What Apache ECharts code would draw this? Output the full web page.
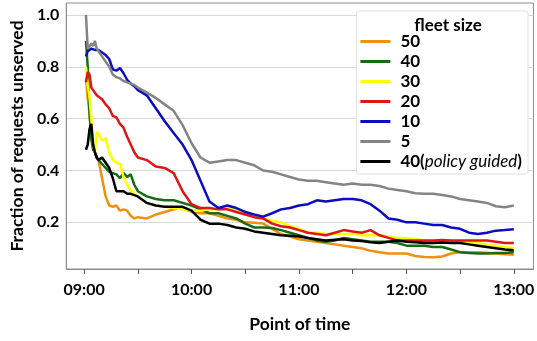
<!DOCTYPE html>
<html>
<head>
<meta charset="utf-8">
<script src="https://cdn.jsdelivr.net/npm/echarts@6/dist/echarts.min.js"></script>
<style>
  html, body { margin: 0; padding: 0; background: #fff; }
  #chart { width: 537px; height: 341px; }
</style>
</head>
<body>
<div id="chart"></div>
<script>
// minutes after 09:00
const minutes = [1, 2, 3, 4, 5, 6, 7, 8, 10, 12, 14, 16, 18, 20, 22, 24, 26, 28, 30,
  35, 40, 45, 50, 55, 60, 65, 70, 75, 80, 85, 90, 95, 100, 105, 110, 115, 120,
  125, 130, 135, 140, 145, 150, 155, 160, 165, 170, 175, 180, 185, 190, 195, 200,
  205, 210, 215, 220, 225, 230, 235, 240];

const fleet50 = [0.75, 0.68, 0.62, 0.55, 0.50, 0.47, 0.45, 0.44, 0.37, 0.30, 0.265, 0.26, 0.265, 0.245, 0.25, 0.245, 0.225, 0.215, 0.22,
  0.215, 0.23, 0.24, 0.25, 0.255, 0.24, 0.235, 0.235, 0.225, 0.215, 0.21, 0.20, 0.198, 0.195, 0.175, 0.155, 0.145, 0.135,
  0.13, 0.125, 0.12, 0.115, 0.11, 0.105, 0.10, 0.09, 0.085, 0.08, 0.08, 0.08, 0.07, 0.066, 0.065, 0.068,
  0.08, 0.085, 0.085, 0.085, 0.083, 0.08, 0.077, 0.075];
const fleet40 = [0.90, 0.80, 0.62, 0.52, 0.48, 0.47, 0.45, 0.44, 0.425, 0.41, 0.395, 0.39, 0.385, 0.37, 0.39, 0.375, 0.385, 0.345, 0.32,
  0.30, 0.29, 0.285, 0.285, 0.275, 0.265, 0.25, 0.235, 0.235, 0.225, 0.215, 0.195, 0.18, 0.18, 0.178, 0.17, 0.16, 0.15,
  0.14, 0.13, 0.125, 0.13, 0.14, 0.135, 0.13, 0.125, 0.125, 0.125, 0.12, 0.11, 0.11, 0.11, 0.105, 0.105,
  0.095, 0.085, 0.082, 0.08, 0.08, 0.082, 0.082, 0.085];
const fleet30 = [0.80, 0.73, 0.68, 0.60, 0.50, 0.47, 0.55, 0.54, 0.515, 0.525, 0.47, 0.44, 0.43, 0.425, 0.375, 0.345, 0.325, 0.31, 0.30,
  0.275, 0.265, 0.26, 0.255, 0.25, 0.245, 0.245, 0.25, 0.25, 0.255, 0.25, 0.24, 0.225, 0.215, 0.205, 0.20, 0.185, 0.175,
  0.16, 0.16, 0.155, 0.155, 0.155, 0.155, 0.15, 0.15, 0.15, 0.145, 0.14, 0.14, 0.135, 0.13, 0.125, 0.125,
  0.125, 0.125, 0.125, 0.12, 0.115, 0.11, 0.105, 0.10];
const fleet20 = [0.74, 0.78, 0.77, 0.72, 0.71, 0.70, 0.69, 0.685, 0.675, 0.655, 0.64, 0.61, 0.605, 0.58, 0.565, 0.53, 0.50, 0.47, 0.45,
  0.44, 0.415, 0.41, 0.39, 0.32, 0.27, 0.255, 0.255, 0.25, 0.25, 0.24, 0.23, 0.22, 0.215, 0.195, 0.185, 0.18, 0.17,
  0.16, 0.155, 0.15, 0.16, 0.17, 0.165, 0.16, 0.17, 0.15, 0.14, 0.13, 0.13, 0.13, 0.13, 0.13, 0.132,
  0.13, 0.13, 0.13, 0.13, 0.13, 0.125, 0.12, 0.12];
const fleet10 = [0.84, 0.86, 0.865, 0.87, 0.87, 0.865, 0.87, 0.865, 0.855, 0.845, 0.83, 0.79, 0.785, 0.795, 0.775, 0.75, 0.735, 0.725, 0.71,
  0.69, 0.64, 0.59, 0.545, 0.50, 0.44, 0.36, 0.28, 0.255, 0.265, 0.255, 0.24, 0.23, 0.222, 0.235, 0.25, 0.255, 0.265,
  0.27, 0.285, 0.28, 0.285, 0.29, 0.29, 0.285, 0.27, 0.245, 0.215, 0.21, 0.20, 0.20, 0.195, 0.19, 0.19,
  0.18, 0.175, 0.16, 0.155, 0.16, 0.168, 0.17, 0.173];
const fleet5 = [1.0, 0.87, 0.88, 0.89, 0.88, 0.90, 0.87, 0.86, 0.84, 0.82, 0.80, 0.77, 0.76, 0.755, 0.745, 0.74, 0.735, 0.73, 0.72,
  0.70, 0.68, 0.655, 0.63, 0.575, 0.505, 0.45, 0.43, 0.435, 0.44, 0.44, 0.43, 0.42, 0.40, 0.395, 0.385, 0.375, 0.365,
  0.36, 0.36, 0.355, 0.35, 0.345, 0.35, 0.345, 0.345, 0.34, 0.33, 0.325, 0.32, 0.312, 0.31, 0.31, 0.305,
  0.30, 0.29, 0.285, 0.28, 0.275, 0.262, 0.258, 0.265];
const fleet40Policy = [0.48, 0.50, 0.56, 0.58, 0.50, 0.47, 0.45, 0.44, 0.45, 0.43, 0.41, 0.37, 0.32, 0.32, 0.32, 0.31, 0.31, 0.305, 0.30,
  0.275, 0.265, 0.26, 0.26, 0.26, 0.245, 0.21, 0.195, 0.195, 0.19, 0.18, 0.175, 0.165, 0.16, 0.155, 0.15, 0.148, 0.145,
  0.14, 0.135, 0.13, 0.133, 0.135, 0.13, 0.128, 0.123, 0.12, 0.125, 0.13, 0.125, 0.123, 0.12, 0.12, 0.122,
  0.12, 0.12, 0.115, 0.11, 0.105, 0.10, 0.095, 0.092];

const seriesNames = ["50", "40", "30", "20", "10", "5", "40(policy guided)"];
const seriesValues = [fleet50, fleet40, fleet30, fleet20, fleet10, fleet5, fleet40Policy];

const xTickMinutes = [0, 30, 60, 90, 120, 150, 180, 210, 240];
const xLabelMinutes = [0, 60, 120, 180, 240];
const yTickValues = [0.2, 0.4, 0.6, 0.8, 1.0];

const palette = ["#f0900e", "#146c14", "#ffff00", "#de1616", "#0c0cc0", "#848484", "#000000"];
const font = "Lato, 'Open Sans', sans-serif";

const chart = echarts.init(document.getElementById("chart"));

const fmtTime = (m) => {
  const h = 9 + Math.floor(m / 60);
  const mm = m % 60;
  return String(h).padStart(2, "0") + ":" + String(mm).padStart(2, "0");
};

chart.setOption({
  animation: false,
  title: {
    text: "fleet size",
    left: 443,
    top: 12,
    textAlign: "center",
    z: 10,
    textStyle: { fontFamily: font, fontSize: 17, fontWeight: "bold", color: "#000" },
  },
  legend: {
    orient: "vertical",
    right: 9,
    top: 11,
    padding: [22, 6, 4, 4],
    icon: "rect",
    itemWidth: 30,
    itemHeight: 3,
    itemGap: 3,
    backgroundColor: "#fff",
    borderColor: "#e0e0e0",
    borderWidth: 1,
    borderRadius: 3,
    data: seriesNames,
    formatter: (name) => name === "40(policy guided)" ? "40({i|policy guided})" : name,
    textStyle: {
      fontFamily: font,
      fontSize: 17,
      fontWeight: "bold",
      color: "#000",
      lineHeight: 15,
      padding: [0, 0, 0, 5],
      rich: {
        i: { fontFamily: font, fontSize: 17, fontStyle: "italic", fontWeight: "normal", color: "#000", lineHeight: 15 },
      },
    },
  },
  grid: {
    left: 57,
    right: 2,
    top: 3,
    bottom: 72,
    show: true,
    borderColor: "#8c8c8c",
    borderWidth: 1,
  },
  xAxis: {
    type: "value",
    min: -10,
    max: 251,
    name: "Point of time",
    nameLocation: "middle",
    nameGap: 46,
    nameTextStyle: { fontFamily: font, fontSize: 17.5, fontWeight: "bold", color: "#000" },
    axisLine: { show: true, onZero: false, lineStyle: { color: "#8c8c8c" } },
    axisTick: { show: true, customValues: xTickMinutes, length: 5, lineStyle: { color: "#555" } },
    axisLabel: {
      customValues: xLabelMinutes,
      formatter: fmtTime,
      margin: 13,
      fontFamily: font,
      fontSize: 16,
      fontWeight: "bold",
      color: "#000",
    },
    splitLine: { show: false },
  },
  yAxis: {
    type: "value",
    min: 0.02,
    max: 1.046,
    name: "Fraction of requests unserved",
    nameLocation: "middle",
    nameGap: 31,
    nameTextStyle: { fontFamily: font, fontSize: 17.5, fontWeight: "bold", color: "#000" },
    axisLine: { show: true, onZero: false, lineStyle: { color: "#8c8c8c" } },
    axisTick: { show: false, customValues: yTickValues },
    axisLabel: {
      customValues: yTickValues,
      formatter: (v) => v.toFixed(1),
      margin: 7,
      fontFamily: font,
      fontSize: 16,
      fontWeight: "bold",
      color: "#000",
    },
    splitLine: { show: true, lineStyle: { color: "#d9d9d9", width: 1 } },
  },
  series: seriesNames.map((name, i) => ({
    name,
    type: "line",
    symbol: "none",
    color: palette[i],
    lineStyle: { width: 2.5, color: palette[i] },
    data: minutes.map((m, j) => [m, seriesValues[i][j]]),
  })),
});
</script>
</body>
</html>
